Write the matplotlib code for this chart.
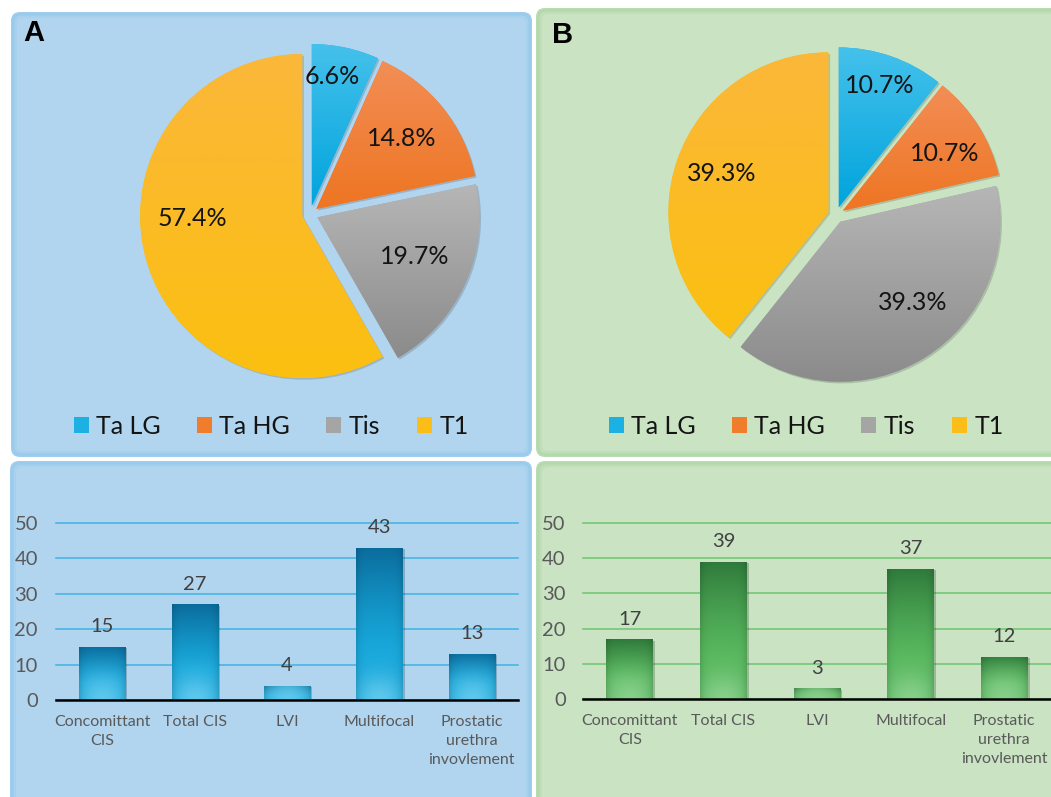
import numpy as np
import matplotlib
matplotlib.use("Agg")
import matplotlib.pyplot as plt
from matplotlib.patches import FancyBboxPatch, Patch
from matplotlib.colors import to_rgb
import matplotlib.patheffects as pe

plt.rcParams['font.family'] = ['Lato', 'DejaVu Sans']

W, H = 1051, 797

# ---- data -------------------------------------------------------------
stage_labels = ["Ta LG", "Ta HG", "Tis", "T1"]
stage_pct_a = [6.6, 14.8, 19.7, 57.4]
stage_pct_b = [10.7, 10.7, 39.3, 39.3]

feature_labels = ["Concomittant\nCIS", "Total CIS", "LVI", "Multifocal",
                  "Prostatic\nurethra\ninvovlement"]
feature_counts_a = [15, 27, 4, 43, 13]
feature_counts_b = [17, 39, 3, 37, 12]
y_ticks = [0, 10, 20, 30, 40, 50]

# ---- styling ------------------------------------------------------------
slice_base = ["#1CB0E3", "#F07D2C", "#A5A5A5", "#FBBD18"]
slice_top = ["#45C1EB", "#F28E56", "#B6B6B6", "#FBB73A"]
slice_bottom = ["#00A4DD", "#EE7522", "#8B8B8B", "#FBC010"]

fig = plt.figure(figsize=(W / 100, H / 100), dpi=100)
fig.patch.set_facecolor("white")


def fx(px):
    return px / W


def fy(py):
    return 1 - py / H


# background canvas in pixel units (y grows downward)
bg = fig.add_axes([0, 0, 1, 1], zorder=-5)
bg.set_xlim(0, W)
bg.set_ylim(H, 0)
bg.axis("off")


def mix(c1, c2, t):
    a, b = np.array(to_rgb(c1)), np.array(to_rgb(c2))
    return tuple(a + (b - a) * t)


def panel(x0, y0, x1, y1, fill, edge):
    layers = [(0, mix(edge, fill, 0.25), 9), (1.5, edge, 8),
              (3.5, mix(edge, fill, 0.6), 7), (6, fill, 6)]
    for inset, col, rad in layers:
        bg.add_patch(FancyBboxPatch(
            (x0 + inset, y0 + inset), (x1 - x0) - 2 * inset, (y1 - y0) - 2 * inset,
            boxstyle=f"round,pad=0,rounding_size={rad}", fc=col, ec="none"))


BLUE_BG, BLUE_EDGE = "#B2D5EF", "#9ACAEC"
GREEN_BG, GREEN_EDGE = "#C9E3C3", "#B3D8AB"

panel(11, 12, 532, 457, BLUE_BG, BLUE_EDGE)
panel(536, 8, 1064, 457, GREEN_BG, GREEN_EDGE)
panel(10, 461, 532, 812, BLUE_BG, BLUE_EDGE)
panel(536, 461, 1064, 812, GREEN_BG, GREEN_EDGE)

bg.text(23, 19, "A", fontsize=21, fontweight="bold", family="Liberation Sans",
        ha="left", va="top", color="black")
bg.text(552, 21, "B", fontsize=21, fontweight="bold", family="Liberation Sans",
        ha="left", va="top", color="black")


# ---- pies -----------------------------------------------------------------
def draw_pie(values, center, r_px, label_pos, legend_cx):
    half = 1.2 * r_px
    ax = fig.add_axes([fx(center[0] - half), fy(center[1] + half),
                       2 * half / W, 2 * half / H])
    ax.patch.set_visible(False)
    wedges, _ = ax.pie(values, explode=[0.05] * len(values), startangle=90,
                       counterclock=False, colors=slice_base,
                       wedgeprops=dict(linewidth=0))
    t = np.linspace(0, 1, 256)[:, None, None]
    for w, ct, cb in zip(wedges, slice_top, slice_bottom):
        w.set_path_effects([pe.SimplePatchShadow(offset=(1.2, -1.2), alpha=0.2),
                            pe.Normal()])
        ext = w.get_path().get_extents()
        grad = np.array(to_rgb(cb))[None, None, :] * (1 - t) + \
            np.array(to_rgb(ct))[None, None, :] * t
        im = ax.imshow(grad, extent=(ext.x0, ext.x1, ext.y0, ext.y1),
                       origin="lower", aspect="auto", interpolation="bilinear",
                       zorder=1.5)
        im.set_clip_path(w)
    for v, (lx, ly) in zip(values, label_pos):
        ax.text(lx, ly, f"{v:.1f}%", ha="center", va="center", fontsize=18,
                color="#141414", zorder=4)
    ax.set_xlim(-1.2, 1.2)
    ax.set_ylim(-1.2, 1.2)
    ax.set_aspect("equal")
    ax.axis("off")

    handles = [Patch(facecolor=c, edgecolor="none") for c in slice_base]
    fig.legend(handles, stage_labels, loc="center",
               bbox_to_anchor=(fx(legend_cx), fy(426)), ncol=4, frameon=False,
               fontsize=18, handlelength=0.6, handleheight=0.6,
               handletextpad=0.3, columnspacing=1.45, labelcolor="#141414")


label_pos_a = [(0.136, 0.846), (0.568, 0.469), (0.648, -0.265), (-0.728, -0.025)]
label_pos_b = [(0.275, 0.812), (0.681, 0.387), (0.481, -0.544), (-0.712, 0.262)]

draw_pie(stage_pct_a, (310, 214), 162, label_pos_a, 271)
draw_pie(stage_pct_b, (836, 215), 160, label_pos_b, 806)


# ---- bar charts ---------------------------------------------------------------
def draw_bars(counts, box, grid_col, top, mid, light, ypad):
    x0, y0, x1, y1 = box
    ax = fig.add_axes([fx(x0), fy(y1), (x1 - x0) / W, (y1 - y0) / H])
    ax.patch.set_visible(False)
    xs = np.arange(len(counts))
    bars = ax.bar(xs, counts, width=0.5, color=mid, zorder=2)

    px_y = (y1 - y0) / 50.0
    bar_px = 0.5 * (x1 - x0) / len(counts)
    ctop, cmid, clight = (np.array(to_rgb(c)) for c in (top, mid, light))
    for b, v in zip(bars, counts):
        ny, nx = 200, 60
        yy = np.linspace(0, v, ny)[:, None]
        xx = np.linspace(-0.5, 0.5, nx)[None, :]
        tt = yy / v
        s = np.clip((tt - 0.3) / 0.7, 0, 1) ** 1.3
        img = cmid[None, None, :] + (ctop - cmid)[None, None, :] * s[..., None]
        img = np.broadcast_to(img, (ny, nx, 3)).copy()
        dist = np.sqrt((xx * bar_px) ** 2 + (yy * px_y) ** 2)
        hl = np.exp(-(dist / (0.55 * bar_px)) ** 2) * 0.85
        img = img + (clight - img) * hl[..., None]
        side = (np.abs(xx) * 2) ** 6 * 0.12
        img = img * (1 - side[..., None])
        im = ax.imshow(np.clip(img, 0, 1),
                       extent=(b.get_x(), b.get_x() + b.get_width(), 0, v),
                       origin="lower", aspect="auto", interpolation="bilinear",
                       zorder=2.1)
        im.set_clip_path(b)
        b.set_path_effects([pe.SimplePatchShadow(offset=(1.5, -1), alpha=0.25),
                            pe.Normal()])
        ax.annotate(f"{v}", xy=(b.get_x() + b.get_width() / 2, v),
                    xytext=(0, 10.5), textcoords="offset points",
                    ha="center", va="baseline", fontsize=14.5, color="#404040",
                    zorder=5)

    ax.set_xlim(-0.5, len(counts) - 0.5)
    ax.set_ylim(0, 50)
    ax.set_yticks(y_ticks)
    ax.set_yticklabels([str(t) for t in y_ticks], fontsize=14.5, color="#595959")
    ax.set_xticks(xs, feature_labels, fontsize=11.5, color="#595959",
                  linespacing=1.45)
    ax.tick_params(axis="y", length=0, pad=ypad)
    ax.tick_params(axis="x", length=0, pad=11)
    ax.yaxis.grid(True, color=grid_col, linewidth=1.1)
    ax.set_axisbelow(True)
    for gl in ax.get_ygridlines():
        gl.set_clip_on(False)
    for side_name in ("top", "left", "right"):
        ax.spines[side_name].set_visible(False)
    ax.spines["bottom"].set_color("black")
    ax.spines["bottom"].set_linewidth(1.8)
    ax.spines["bottom"].set_zorder(3)


draw_bars(feature_counts_a, (56, 523, 518, 700), "#3FB3E4",
          "#0A6C9C", "#18A8DB", "#6ACDF0", 13)
draw_bars(feature_counts_b, (583, 523, 1051, 699), "#6CC470",
          "#2F7A3B", "#58B85E", "#8ED392", 12.5)

fig.savefig("out.png", dpi=100)
